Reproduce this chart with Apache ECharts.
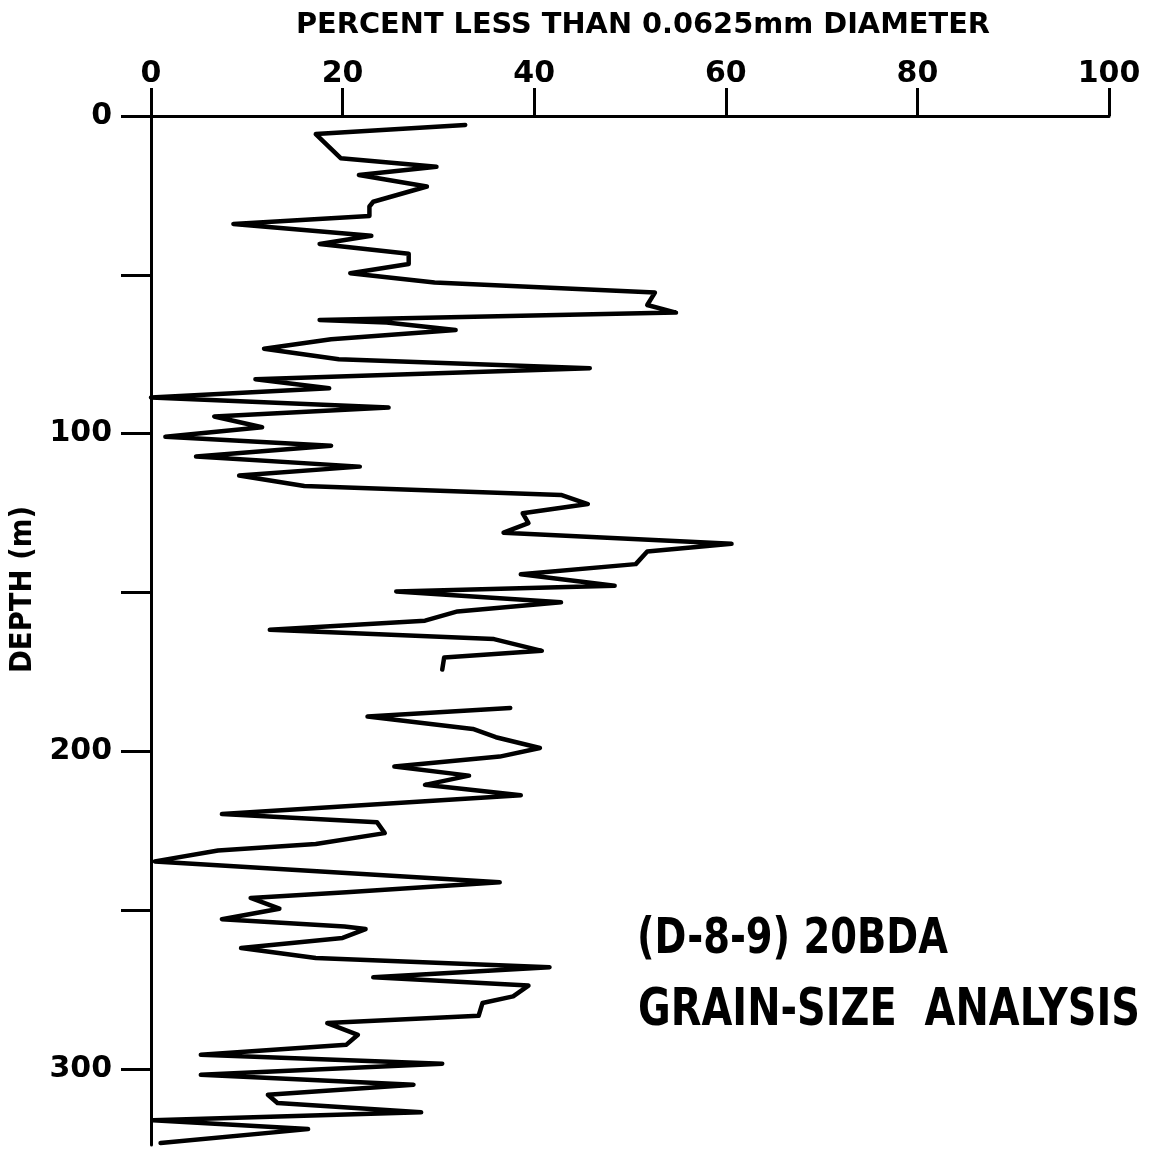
<!DOCTYPE html>
<html>
<head>
<meta charset="utf-8">
<script src="https://cdn.jsdelivr.net/npm/echarts@6/dist/echarts.min.js"></script>
<style>
html,body{margin:0;padding:0;background:#fff;}
#chart{width:1158px;height:1156px;}
</style>
</head>
<body>
<div id="chart"></div>
<script>
// Upper interval (depth in m, percent finer than 0.0625 mm)
const depthA = [2.8,5.7,13.3,16.0,18.6,22.2,27.0,28.5,31.5,34.0,37.7,40.3,43.4,46.6,49.5,52.4,55.6,59.5,61.9,64.2,65.0,67.4,70.3,73.3,76.6,79.4,82.9,85.7,88.6,91.8,94.6,98.0,101.0,103.8,107.2,110.4,113.2,116.5,119.3,122.2,125.1,128.2,131.2,134.7,137.1,141.1,144.3,147.9,149.7,153.1,156.0,158.9,161.8,164.7,168.4,170.5,174.3];
const pctA   = [32.8,17.2,19.8,29.8,21.7,28.8,23.2,22.8,22.8,8.6,23.0,17.6,26.9,26.9,20.8,29.6,52.6,51.8,54.8,17.6,24.6,31.8,18.8,11.8,19.6,45.8,10.9,18.6,0,24.8,6.6,11.6,1.5,18.8,4.7,21.8,9.2,16.0,42.8,45.6,38.8,39.4,36.8,60.6,51.8,50.6,38.6,48.4,25.6,42.8,32.0,28.6,12.4,35.8,40.8,30.6,30.4];
// Lower interval
const depthB = [186.4,189.1,193.0,195.6,199.0,201.7,204.8,207.7,210.6,213.9,219.8,222.4,225.8,229.2,231.3,234.7,241.3,244.4,246.2,249.6,252.9,255.2,256.0,258.8,262.0,265.1,268.0,271.2,273.8,277.2,279.3,283.3,285.6,289.3,292.4,295.6,298.4,301.9,305.0,308.2,310.8,313.7,316.2,319.0,323.4];
const pctB   = [37.5,22.6,33.6,36.0,40.6,36.4,25.4,33.2,28.6,38.6,7.4,23.6,24.4,17.2,7.0,0.4,36.4,20.4,10.4,13.4,7.4,20.2,22.4,20.0,9.4,17.2,41.6,23.2,39.4,37.8,34.6,34.2,18.4,21.6,20.4,5.2,30.4,5.2,27.4,12.2,13.2,28.2,0.2,16.4,1.0];
const xTicks = [0,20,40,60,80,100];
const yLabelValues = [0,100,200,300];
const yTickValues = [0,50,100,150,200,250,300];
const titleText = 'PERCENT LESS THAN 0.0625mm DIAMETER';
const yName = 'DEPTH (m)';
const note1 = '(D-8-9) 20BDA';
const note2 = 'GRAIN-SIZE  ANALYSIS';

const FONT = '"DejaVu Sans",sans-serif';
const mctx = document.createElement('canvas').getContext('2d');
function fitText(text, font, x0, x1, cy, extra) {
  mctx.font = font;
  const w = mctx.measureText(text).width;
  const s = (x1 - x0) / w;
  return Object.assign({type:'text', x:(x0+x1)/2, y:cy, scaleX:s,
    style:{text:text, font:font, fill:'#000', textAlign:'center', textVerticalAlign:'middle'}}, extra||{});
}
function fitTextV(text, font, cx, y0, y1) {
  mctx.font = font;
  const w = mctx.measureText(text).width;
  const s = (y1 - y0) / w;
  return {type:'text', x:cx, y:(y0+y1)/2, rotation:Math.PI/2, scaleX:s,
    style:{text:text, font:font, fill:'#000', textAlign:'center', textVerticalAlign:'middle'}};
}

const chart = echarts.init(document.getElementById('chart'), null, {renderer:'canvas'});
chart.setOption({
  animation:false,
  backgroundColor:'#fff',
  grid:{left:151, right:49, top:116, bottom:11},
  xAxis:{
    type:'value', position:'top', min:0, max:100, interval:20,
    axisLine:{show:true, lineStyle:{color:'#000', width:3}},
    axisTick:{show:true, length:28, lineStyle:{color:'#000', width:3}},
    axisLabel:{margin:27, fontSize:30, color:'#000', fontFamily:FONT, fontWeight:'bold',
      customValues:xTicks},
    splitLine:{show:false}
  },
  yAxis:{
    type:'value', inverse:true, min:0, max:324, interval:50,
    axisLine:{show:true, lineStyle:{color:'#000', width:3}},
    axisTick:{show:true, length:30, lineStyle:{color:'#000', width:3}, customValues:yTickValues},
    axisLabel:{margin:39, fontSize:30, color:'#000', fontFamily:FONT, fontWeight:'bold',
      customValues:yLabelValues},
    splitLine:{show:false}
  },
  series:[
    {type:'line', data:depthA.map((d,i)=>[pctA[i], d]), symbol:'none',
     lineStyle:{color:'#000', width:4.5, join:'round', cap:'round'}},
    {type:'line', data:depthB.map((d,i)=>[pctB[i], d]), symbol:'none',
     lineStyle:{color:'#000', width:4.5, join:'round', cap:'round'}}
  ],
  graphic:[
    fitText(titleText, 'bold 28px '+FONT, 296, 990, 26),
    fitTextV(yName, 'bold 30px '+FONT, 23, 506, 673),
    fitText(note1, 'bold 50px '+FONT, 637, 948, 940),
    fitText(note2, 'bold 52px '+FONT, 638, 1140, 1011)
  ]
});
</script>
</body>
</html>
